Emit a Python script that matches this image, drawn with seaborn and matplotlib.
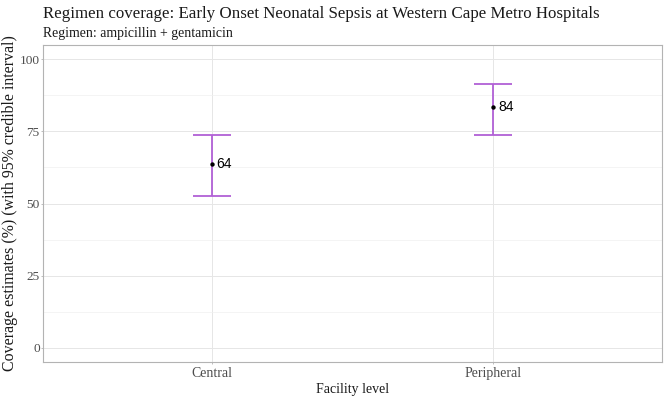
import matplotlib
matplotlib.use("Agg")
import matplotlib.pyplot as plt
import seaborn as sns
import pandas as pd
from matplotlib.ticker import MultipleLocator

# Data
facility = ["Central", "Peripheral"]
estimate = [63.6, 83.6]
lower = [52.6, 73.7]
upper = [73.7, 91.4]
labels = ["64", "84"]
yticks = [0, 25, 50, 75, 100]

title = "Regimen coverage: Early Onset Neonatal Sepsis at Western Cape Metro Hospitals"
subtitle = "Regimen: ampicillin + gentamicin"
xlab = "Facility level"
ylab = "Coverage estimates (%) (with 95% credible interval)"

df = pd.DataFrame({"facility": facility, "estimate": estimate,
                   "lower": lower, "upper": upper, "label": labels})

sns.set_theme(style="white")
plt.rcParams["font.family"] = ["Liberation Serif", "DejaVu Serif"]

fig = plt.figure(figsize=(6.69, 4.01), dpi=100)
ax = fig.add_axes([0.064, 0.097, 0.9255, 0.791])
renderer = fig.canvas.get_renderer()


def fit(txt, width_px, base=10.0):
    t = fig.text(0, 0, txt, fontsize=base)
    w = t.get_window_extent(renderer).width
    t.remove()
    return base * width_px / w


purple = "#B160D6"
err_lo = [e - l for e, l in zip(df["estimate"], df["lower"])]
err_hi = [u - e for e, u in zip(df["estimate"], df["upper"])]
ax.errorbar(df["facility"], df["estimate"], yerr=[err_lo, err_hi],
            fmt="none", ecolor=purple, elinewidth=1.3, capsize=14,
            capthick=1.3, zorder=3)
sns.scatterplot(data=df, x="facility", y="estimate", color="black", s=10,
                edgecolor="black", linewidth=0, ax=ax, zorder=4)
for i, row in df.iterrows():
    ax.annotate(row["label"], (i, row["estimate"]), xytext=(3.5, 0),
                textcoords="offset points", ha="left", va="center",
                fontsize=10, family=["Liberation Sans", "DejaVu Sans"],
                color="black", zorder=5)

ax.set_xlim(-0.6, 1.6)
ax.set_ylim(-5, 105)
ax.set_yticks(yticks)
ax.yaxis.set_minor_locator(MultipleLocator(12.5))
ax.grid(which="major", color="#E6E6E6", linewidth=0.7)
ax.grid(which="minor", axis="y", color="#F0F0F0", linewidth=0.5)
ax.set_axisbelow(True)
for s in ax.spines.values():
    s.set_color("#B3B3B3")
    s.set_linewidth(0.8)
tick_fs = fit("Central", 41)
ax.tick_params(axis="both", which="major", length=1.6, width=0.6,
               color="#B3B3B3", labelsize=tick_fs, labelcolor="#4D4D4D", pad=0.6,
               bottom=True, left=True)
ax.tick_params(axis="y", which="major", labelsize=fit("100", 20))
ax.tick_params(axis="x", which="major", pad=2)
ax.tick_params(axis="both", which="minor", length=0)
ax.set_xlabel(xlab, fontsize=fit(xlab, 73), color="#1A1A1A", labelpad=2)
ax.set_ylabel(ylab, fontsize=fit(ylab, 336), color="#1A1A1A")
ax.yaxis.set_label_coords(-0.040, 0.5)

fig.text(0.064, 0.955, title, fontsize=fit(title, 554), color="#1A1A1A",
         ha="left", va="baseline")
fig.text(0.064, 0.908, subtitle, fontsize=fit(subtitle, 189), color="#1A1A1A",
         ha="left", va="baseline")

fig.savefig("out.png", dpi=100)
